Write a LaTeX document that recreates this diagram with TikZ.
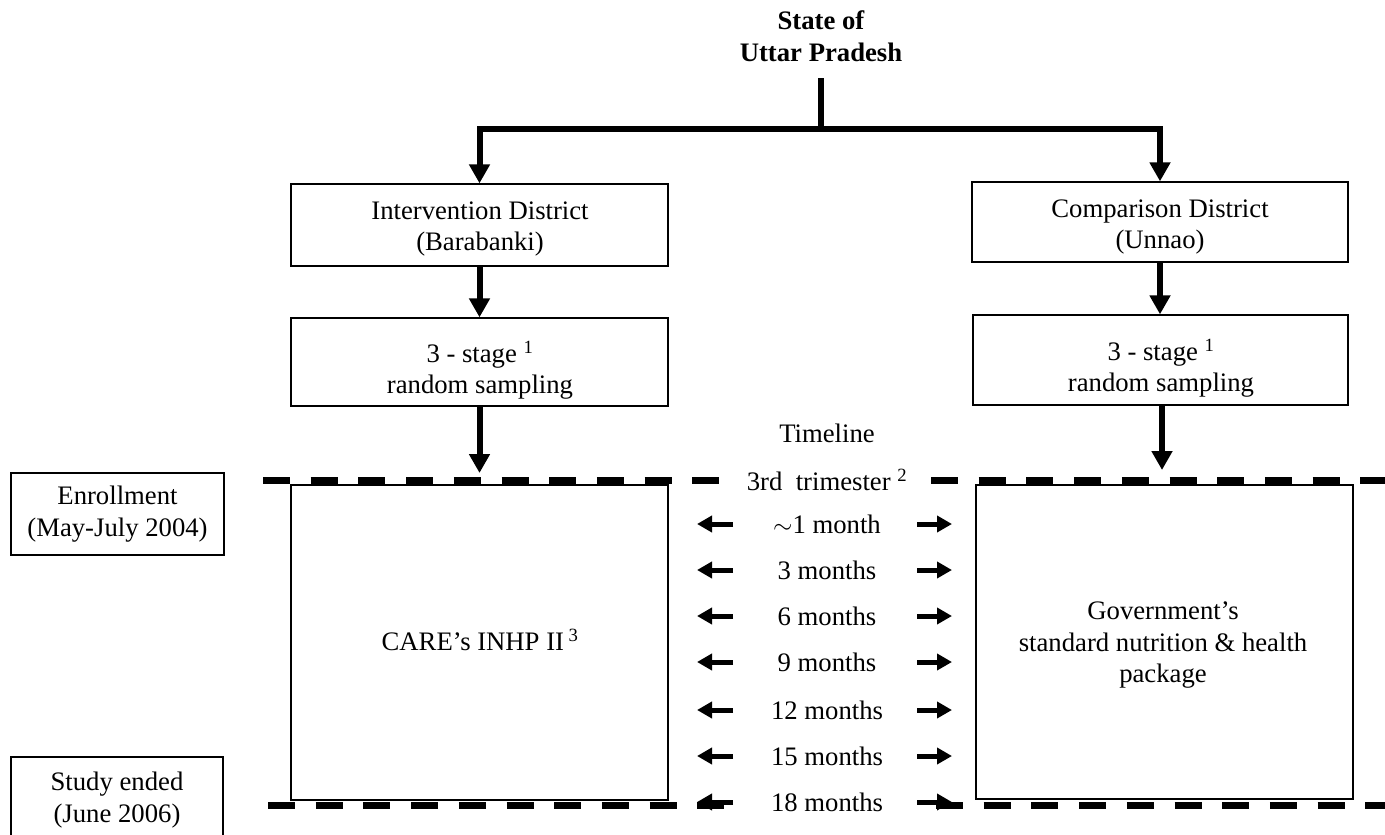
\documentclass[tikz,border=0pt]{standalone}
\usepackage{fontspec}
\setmainfont{Liberation Serif}
\usetikzlibrary{arrows.meta}
\begin{document}
\begin{tikzpicture}[x=1pt,y=-1pt,
  font=\fontsize{26.7}{31.5}\selectfont,
  box/.style={draw,line width=1.3pt,inner sep=0pt},
  bigarrow/.style={line width=6pt,-{Triangle[length=19pt,width=20pt]}},
  smallarrow/.style={line width=5pt,-{Triangle[length=15pt,width=16pt]}},
  dashline/.style={line width=7pt,dash pattern=on 27pt off 20.7pt},
  lbl/.style={inner sep=0pt,align=center}]
\clip (0,0) rectangle (1385,835);
\fill[white] (0,0) rectangle (1385,835);

% title
\node[lbl,font=\fontsize{26.7}{31.5}\selectfont\bfseries] (state) at (821,36) {State of\\Uttar Pradesh};
\coordinate (top) at (821,78);
\coordinate (j) at (821,129);

% boxes
\node[box,minimum width=377pt,minimum height=82pt] (int) at (479.5,225) {};
\node[lbl] (intT) at (480,229) {Intervention District\\(Barabanki)};
\node[box,minimum width=376pt,minimum height=80pt] (cmp) at (1160,222) {};
\node[lbl] (cmpT) at (1160,227) {Comparison District\\(Unnao)};
\node[box,minimum width=377pt,minimum height=88pt] (samL) at (479.5,362) {};
\node[lbl] (samLT) at (480,370) {3 - stage \textsuperscript{1}\\random sampling};
\node[box,minimum width=375pt,minimum height=90pt] (samR) at (1160.5,360) {};
\node[lbl] (samRT) at (1161,368) {3 - stage \textsuperscript{1}\\random sampling};
\node[box,minimum width=377pt,minimum height=315pt] (bigL) at (479.5,642.5) {};
\node[lbl] (care) at (480,640) {CARE’s INHP II\,\textsuperscript{3}};
\node[box,minimum width=377pt,minimum height=314pt] (bigR) at (1164.5,642) {};
\node[lbl] (gov) at (1163,645) {Government’s\\standard nutrition \& health\\package};
\node[box,minimum width=213pt,minimum height=82pt] (enr) at (117.5,514) {};
\node[lbl] (enrT) at (117.5,514) {Enrollment\\(May-July 2004)};
\node[box,minimum width=212pt,minimum height=88pt] (end) at (117,801) {};
\node[lbl] (endT) at (117,800) {Study ended\\(June 2006)};

% connectors
\draw[line width=6pt] (top) -- (j);
\draw[bigarrow] (j) -| (int.north);
\draw[bigarrow] (j) -| (cmp.north);
\draw[bigarrow] (int) -- (samL);
\draw[bigarrow] (cmp.south) -- (cmp.south |- samR.north);
\coordinate (eL) at (479.5,473);
\coordinate (eR) at (1162,470);
\draw[bigarrow] (samL.south) -- (eL);
\draw[bigarrow] (samR.south -| eR) -- (eR);

% timeline
\node[lbl] (tl) at (827,433) {Timeline};
\node[lbl] (tri) at (827,480) {3rd\ \ trimester \textsuperscript{2}};
\draw[dashline] (263,480) -- (722,480);
\draw[dashline] (931,480) -- (1395,480);
\draw[dashline] (268,805) -- (724,805);
\draw[dashline] (936,805) -- (1395,805);

\foreach \i/\y/\t in {1/524/{$\sim$1 month},2/570/{3 months},3/616/{6 months},4/662/{9 months},5/710/{12 months},6/756/{15 months},7/802/{18 months}}{
  \node[lbl] (m\i) at (827,\y) {\t};
  \coordinate (la\i) at (733,\y);
  \coordinate (lb\i) at (697,\y);
  \coordinate (ra\i) at (917,\y);
  \coordinate (rb\i) at (952,\y);
  \draw[smallarrow] (la\i) -- (lb\i);
  \draw[smallarrow] (ra\i) -- (rb\i);
}
\end{tikzpicture}
\end{document}
